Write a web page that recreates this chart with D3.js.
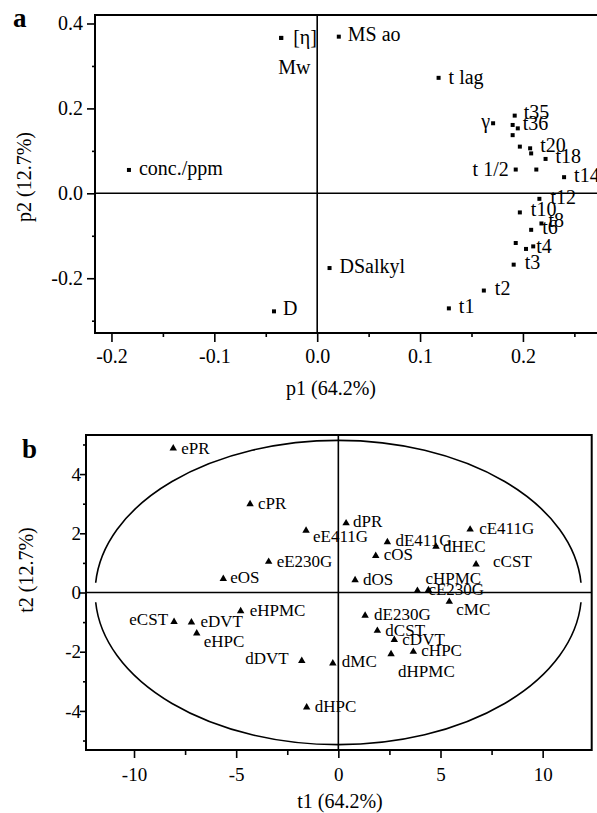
<!DOCTYPE html>
<html>
<head>
<meta charset="utf-8">
<script src="https://cdn.jsdelivr.net/npm/d3@7"></script>
<style>
  body { margin: 0; background: #fff; }
  svg { display: block; }
  text { font-family: "Liberation Serif", "Times New Roman", serif; fill: #000; }
</style>
</head>
<body>
<svg id="chart" width="597" height="813"></svg>
<script>
// panel a : loadings p1 / p2
let loadNames = ["conc./ppm", "[η]", "Mw", "MS ao", "t lag", "γ", "t35", "", "t36", "", "",
  "t20", "", "t18", "t 1/2", "", "t14", "t12", "t10", "t8", "t6", "", "", "t4", "t3", "t2", "t1",
  "DSalkyl", "D"];
let loadP1 = [-0.183, -0.035, -0.035, 0.021, 0.118, 0.171, 0.192, 0.190, 0.195, 0.190, 0.197,
  0.207, 0.208, 0.222, 0.193, 0.213, 0.240, 0.216, 0.197, 0.218, 0.208, 0.193, 0.203, 0.210, 0.191, 0.162, 0.128,
  0.012, -0.042];
let loadP2 = [0.055, 0.366, 0.366, 0.369, 0.272, 0.165, 0.183, 0.161, 0.153, 0.137, 0.110,
  0.106, 0.094, 0.081, 0.056, 0.056, 0.038, -0.013, -0.045, -0.071, -0.086, -0.117, -0.131, -0.125, -0.168, -0.229, -0.271,
  -0.176, -0.278];
let pTicksX = [-0.2, -0.1, 0, 0.1, 0.2];
let pMinorX = [-0.15, -0.05, 0.05, 0.15, 0.25];
let pTicksY = [-0.2, 0, 0.2, 0.4];
let pMinorY = [-0.3, -0.1, 0.1, 0.3];

// panel b : scores t1 / t2
let scoreNames = ["ePR", "cPR", "eE230G", "eOS", "dPR", "eE411G", "dE411G", "cOS", "dHEC", "cE411G",
  "cCST", "dOS", "cHPMC", "cE230G", "eHPMC", "eCST", "eDVT", "eHPC", "dDVT", "dMC", "dHPC",
  "dE230G", "dCST", "cDVT", "cHPC", "dHPMC", "cMC"];
let scoreT1 = [-8.08, -4.32, -3.41, -5.63, 0.38, -1.58, 2.40, 1.83, 4.78, 6.45,
  6.74, 0.82, 3.87, 4.41, -4.78, -8.04, -7.19, -6.93, -1.79, -0.27, -1.55,
  1.31, 1.91, 2.74, 3.67, 2.58, 5.43];
let scoreT2 = [4.87, 2.99, 1.04, 0.46, 2.34, 2.09, 1.70, 1.24, 1.55, 2.13,
  0.95, 0.42, 0.06, 0.08, -0.63, -0.99, -1.01, -1.38, -2.31, -2.39, -3.88,
  -0.78, -1.29, -1.60, -2.00, -2.08, -0.31];
let tTicksX = [-10, -5, 0, 5, 10];
let tMinorX = [-7.5, -2.5, 2.5, 7.5];
let tTicksY = [-4, -2, 0, 2, 4];
let tMinorY = [-5, -3, -1, 1, 3, 5];

// confidence ellipse (semi axes) and the gap around t2 = 0
let ellA = 11.9, ellB = 5.14, ellGap = 0.33;

// label placement [dx, dy, anchor]
let placeA = {
  "[η]": [12, 6], "Mw": [-3, 36], "MS ao": [9, 4], "t lag": [10, 6], "γ": [-3, 5, "end"],
  "t35": [9, 3], "t36": [5, 2], "t20": [10, 4], "t18": [10, 4], "t 1/2": [-7, 6, "end"],
  "t12": [11, 5], "t10": [11, 4], "t8": [7, 4], "t6": [11, 4], "t4": [3, 7], "t3": [11, 4],
  "t2": [11, 4], "t1": [10, 5], "D": [9, 4]
};
let placeB = {
  "ePR": [8, 5.5], "cPR": [8, 5.5], "eE230G": [8, 5.5], "eOS": [7, 4], "dPR": [7, 4],
  "eE411G": [7, 11.5], "dE411G": [8, 4], "cOS": [8, 4], "dHEC": [7, 5.5], "cE411G": [9, 4.5],
  "cCST": [17, 3], "dOS": [8, 5], "cHPMC": [8, -7], "cE230G": [0, 5], "eHPMC": [9, 4.5],
  "eCST": [-6, 3, "end"], "eDVT": [9, 5], "eHPC": [7, 14], "dDVT": [-13, 3.5, "end"],
  "dMC": [9, 4], "dHPC": [8, 5], "dE230G": [9, 4], "dCST": [8, 5], "cDVT": [8, 5],
  "cHPC": [8, 4.5], "dHPMC": [7, 23], "cMC": [7, 13]
};

const svg = d3.select("svg#chart");
const fmtA = d => d3.format(".1f")(d).replace("\u2212", "-");
const fmtB = d => d3.format("d")(d).replace("\u2212", "-");

function axis(g, gen, size) {
  g.call(gen);
  g.select(".domain").remove();
  g.attr("font-family", "Liberation Serif").attr("font-size", size);
  g.selectAll("line").attr("stroke", "#000").attr("stroke-width", 1.6);
}

// ---------- panel a ----------
const xA = d3.scaleLinear().domain([-0.216, 0.272]).range([95, 597]);
const yA = d3.scaleLinear().domain([-0.329, 0.42]).range([333, 15]);

svg.append("g").attr("transform", "translate(0,333)")
  .call(g => axis(g, d3.axisBottom(xA).tickValues(pTicksX).tickSize(9).tickFormat(fmtA), 20))
  .selectAll("text").attr("y", 30).attr("dy", 0);
svg.append("g").attr("transform", "translate(0,333)")
  .call(g => axis(g, d3.axisBottom(xA).tickValues(pMinorX).tickSize(4).tickFormat(""), 20));
svg.append("g").attr("transform", "translate(95,0)")
  .call(g => axis(g, d3.axisLeft(yA).tickValues(pTicksY).tickSize(8).tickFormat(fmtA), 20))
  .selectAll("text").attr("x", -12);
svg.append("g").attr("transform", "translate(95,0)")
  .call(g => axis(g, d3.axisLeft(yA).tickValues(pMinorY).tickSize(3).tickFormat(""), 20));

svg.append("rect").attr("x", 95).attr("y", 15).attr("width", 510).attr("height", 318)
  .attr("fill", "none").attr("stroke", "#000").attr("stroke-width", 2);
svg.append("line").attr("x1", xA(0)).attr("x2", xA(0)).attr("y1", 15).attr("y2", 333)
  .attr("stroke", "#000").attr("stroke-width", 1.6);
svg.append("line").attr("x1", 95).attr("x2", 597).attr("y1", yA(0)).attr("y2", yA(0))
  .attr("stroke", "#000").attr("stroke-width", 1.6);

loadNames.forEach(function (name, i) {
  let cx = xA(loadP1[i]), cy = yA(loadP2[i]);
  svg.append("rect").attr("x", cx - 2).attr("y", cy - 2).attr("width", 4).attr("height", 4).attr("fill", "#000");
  if (name === "") return;
  let p = placeA[name] || [10, 5];
  svg.append("text").attr("x", cx + p[0]).attr("y", cy + p[1])
    .attr("text-anchor", p[2] || "start").attr("font-size", 20).text(name);
});

svg.append("text").attr("x", 13).attr("y", 27).attr("font-size", 27).attr("font-weight", "bold").text("a");
svg.append("text").attr("x", 331).attr("y", 395).attr("text-anchor", "middle").attr("font-size", 20).text("p1 (64.2%)");
svg.append("text").attr("transform", "translate(31,177) rotate(-90)").attr("text-anchor", "middle")
  .attr("font-size", 20).text("p2 (12.7%)");

// ---------- panel b ----------
const xB = d3.scaleLinear().domain([-12.35, 12.4]).range([86, 591.7]);
const yB = d3.scaleLinear().domain([-5.32, 5.32]).range([750, 435]);

svg.append("g").attr("transform", "translate(0,750)")
  .call(g => axis(g, d3.axisBottom(xB).tickValues(tTicksX).tickSize(8).tickFormat(fmtB), 19))
  .selectAll("text").attr("y", 31).attr("dy", 0);
svg.append("g").attr("transform", "translate(0,750)")
  .call(g => axis(g, d3.axisBottom(xB).tickValues(tMinorX).tickSize(5).tickFormat(""), 19));
svg.append("g").attr("transform", "translate(86,0)")
  .call(g => axis(g, d3.axisLeft(yB).tickValues(tTicksY).tickSize(6).tickFormat(fmtB), 19))
  .selectAll("text").attr("x", -5);
svg.append("g").attr("transform", "translate(86,0)")
  .call(g => axis(g, d3.axisLeft(yB).tickValues(tMinorY).tickSize(3).tickFormat(""), 19));

svg.append("rect").attr("x", 86).attr("y", 435).attr("width", 591.7 - 86).attr("height", 315)
  .attr("fill", "none").attr("stroke", "#000").attr("stroke-width", 2);
svg.append("line").attr("x1", xB(0)).attr("x2", xB(0)).attr("y1", 435).attr("y2", 750)
  .attr("stroke", "#000").attr("stroke-width", 1.6);
svg.append("line").attr("x1", 86).attr("x2", 591.7).attr("y1", yB(0)).attr("y2", yB(0))
  .attr("stroke", "#000").attr("stroke-width", 1.6);

let rx = xB(ellA) - xB(0), ry = yB(0) - yB(ellB);
let ex = ellA * Math.sqrt(1 - (ellGap / ellB) * (ellGap / ellB));
svg.append("path")
  .attr("d", "M" + xB(-ex) + "," + yB(ellGap) + "A" + rx + "," + ry + " 0 0 1 " + xB(ex) + "," + yB(ellGap) +
    "M" + xB(ex) + "," + yB(-ellGap) + "A" + rx + "," + ry + " 0 0 1 " + xB(-ex) + "," + yB(-ellGap))
  .attr("fill", "none").attr("stroke", "#000").attr("stroke-width", 1.6);

const tri = d3.symbol().type(d3.symbolTriangle).size(24);
scoreNames.forEach(function (name, i) {
  let cx = xB(scoreT1[i]), cy = yB(scoreT2[i]);
  svg.append("path").attr("d", tri).attr("transform", "translate(" + cx + "," + cy + ")").attr("fill", "#000");
  let p = placeB[name] || [8, 5];
  svg.append("text").attr("x", cx + p[0]).attr("y", cy + p[1])
    .attr("text-anchor", p[2] || "start").attr("font-size", 17).text(name);
});

svg.append("text").attr("x", 22).attr("y", 458).attr("font-size", 27).attr("font-weight", "bold").text("b");
svg.append("text").attr("x", 340).attr("y", 808).attr("text-anchor", "middle").attr("font-size", 20).text("t1 (64.2%)");
svg.append("text").attr("transform", "translate(33,570) rotate(-90)").attr("text-anchor", "middle")
  .attr("font-size", 20).text("t2 (12.7%)");
</script>
</body>
</html>
